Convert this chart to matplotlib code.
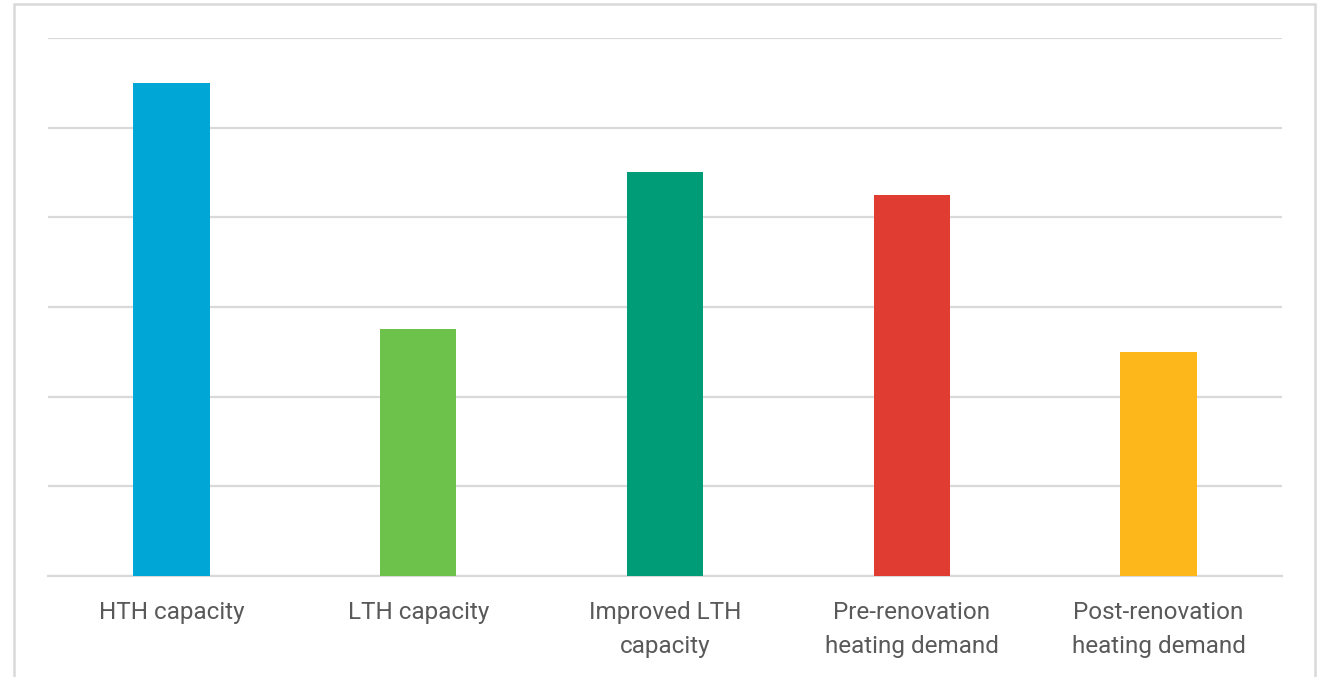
import matplotlib.pyplot as plt
from matplotlib.patches import Rectangle

categories = ["HTH capacity", "LTH capacity", "Improved LTH\ncapacity",
              "Pre-renovation\nheating demand", "Post-renovation\nheating demand"]
values = [5.5, 2.75, 4.5, 4.25, 2.5]
colors = ["#00A6D6", "#6CC24A", "#009B77", "#E03C31", "#FDB71A"]

fig = plt.figure(figsize=(13.2, 6.77), dpi=100)
ax = fig.add_axes([0.0364, 0.1492, 0.9348, 0.7947])

x = range(len(categories))
ax.bar(x, values, width=0.31, color=colors, zorder=3)

ax.set_xlim(-0.5, len(categories) - 0.5)
ax.set_ylim(0, 6)
ax.set_yticks(range(0, 7))
ax.set_yticklabels([])
ax.tick_params(axis="y", length=0)
ax.tick_params(axis="x", length=0, pad=18)
ax.set_xticks(list(x))
ax.set_xticklabels(categories, fontsize=17.5, color="#595959",
                   family="Roboto", linespacing=1.6)
ax.grid(axis="y", color="#d9d9d9", linewidth=1.6, zorder=0)
for side in ["top", "right", "left"]:
    ax.spines[side].set_visible(False)
ax.spines["bottom"].set_color("#d9d9d9")
ax.spines["bottom"].set_linewidth(1.6)

# thin frame around the chart area
fig.patches.append(Rectangle((14 / 1320, -0.01), 1301 / 1320, 1 - 4 / 677 + 0.01,
                             transform=fig.transFigure, fill=False,
                             edgecolor="#d9d9d9", linewidth=1.8))

fig.savefig("out.png", dpi=100)
